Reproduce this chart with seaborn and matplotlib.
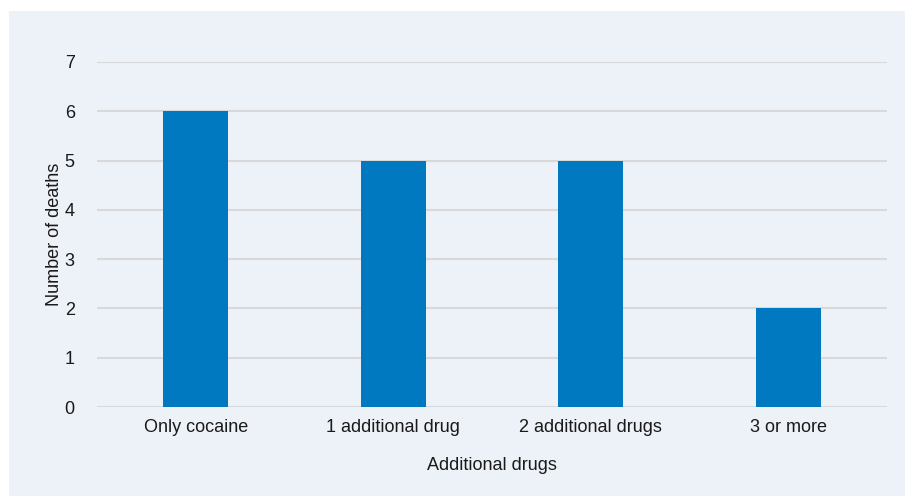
import matplotlib.pyplot as plt
import matplotlib.patches as mpatches
import pandas as pd
import seaborn as sns

categories = ["Only cocaine", "1 additional drug", "2 additional drugs", "3 or more"]
deaths = [6, 5, 5, 2]

df = pd.DataFrame({"Additional drugs": categories, "Number of deaths": deaths})

sns.set_theme(style="white")
plt.rcParams["font.family"] = ["Liberation Sans", "DejaVu Sans"]

bg = "#EDF1F8"
fig = plt.figure(figsize=(9.05, 4.96), dpi=100, facecolor="white")
fig.patches.append(mpatches.Rectangle((9 / 905, 0), 1, 1 - 11 / 496,
                                      transform=fig.transFigure, facecolor=bg,
                                      edgecolor="none", zorder=-10))
ax = fig.add_axes([97 / 905, 89 / 496, 790 / 905, 345 / 496])
ax.set_facecolor(bg)

sns.barplot(data=df, x="Additional drugs", y="Number of deaths", color="#0079C1",
            width=0.33, saturation=1, linewidth=0, ax=ax, zorder=3)

ax.set_ylim(0, 7)
ax.set_yticks(range(0, 8))
ax.yaxis.grid(True, color="#D9D9D9", linewidth=1.5, zorder=0)
ax.set_axisbelow(True)
for s in ax.spines.values():
    s.set_visible(False)
ax.tick_params(axis="both", length=0, labelsize=13, colors="#1a1a1a")
ax.tick_params(axis="y", pad=16)
ax.tick_params(axis="x", pad=9)
ax.set_xlabel("Additional drugs", fontsize=13, color="#1a1a1a", labelpad=15)
ax.set_ylabel("Number of deaths", fontsize=13, color="#1a1a1a")
ax.yaxis.set_label_coords(-0.043, 0.5)

fig.savefig("out.png", dpi=100, facecolor="white")
